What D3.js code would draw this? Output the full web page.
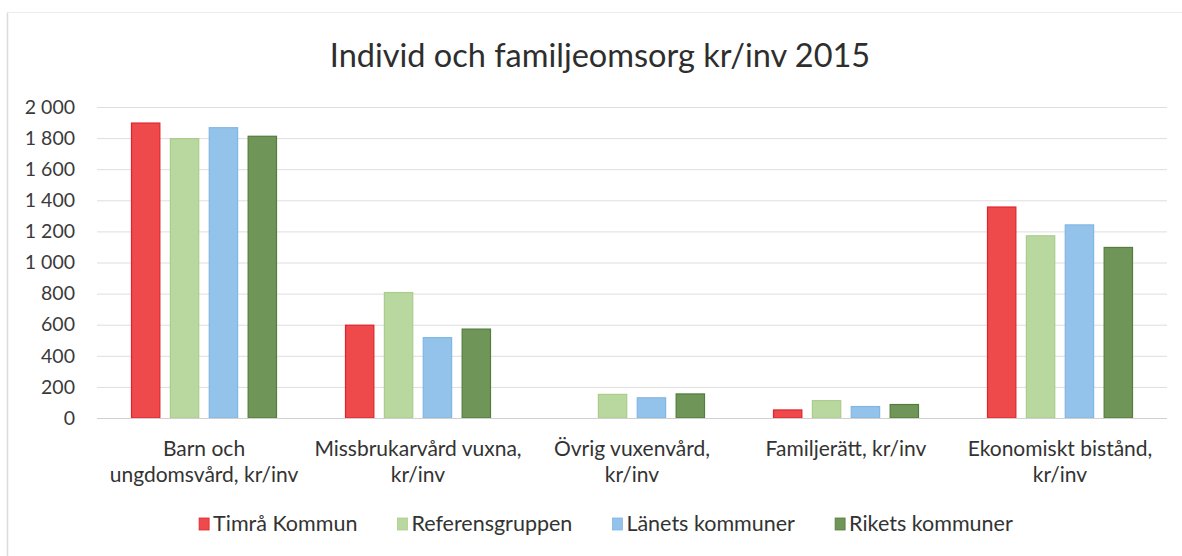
<!DOCTYPE html>
<html>
<head>
<meta charset="utf-8">
<script src="https://cdn.jsdelivr.net/npm/d3@7"></script>
<style>
  html, body { margin: 0; padding: 0; background: #fff; }
  svg { display: block; }
  text { font-family: Lato, "Open Sans", sans-serif; fill: #3a3a3a; }
</style>
</head>
<body>
<svg id="chart" width="1182" height="556"></svg>
<script>
const title = "Individ och familjeomsorg kr/inv 2015";
const categories = [
  "Barn och\nungdomsvård, kr/inv",
  "Missbrukarvård vuxna,\nkr/inv",
  "Övrig vuxenvård,\nkr/inv",
  "Familjerätt, kr/inv",
  "Ekonomiskt bistånd,\nkr/inv"
];
const seriesNames = ["Timrå Kommun", "Referensgruppen", "Länets kommuner", "Rikets kommuner"];
const timra      = [1900, 600, 0, 55, 1360];
const referens   = [1800, 810, 155, 115, 1175];
const lanets     = [1870, 520, 133, 77, 1245];
const rikets     = [1815, 575, 158, 90, 1100];
const yTicks = [0, 200, 400, 600, 800, 1000, 1200, 1400, 1600, 1800, 2000];

const seriesValues = [timra, referens, lanets, rikets];
const fills   = ["#ef4a4b", "#b9d89f", "#93c3ea", "#6f9558"];
const strokes = ["#e0232d", "#aacd8c", "#82b6e2", "#527d3c"];

const svg = d3.select("#chart");
const W = 1182, H = 556;
const plot = { left: 97, right: 1167, top: 107, bottom: 418 };

// faint frame (scanned chart border)
svg.append("line").attr("x1", 7.5).attr("x2", 7.5).attr("y1", 12).attr("y2", H)
  .attr("stroke", "#dcdcdc").attr("stroke-width", 1.5);
svg.append("line").attr("x1", 7).attr("x2", W).attr("y1", 12.5).attr("y2", 12.5)
  .attr("stroke", "#ececec").attr("stroke-width", 1);

// title
svg.append("text").attr("x", 600).attr("y", 67).attr("text-anchor", "middle")
  .style("font-size", "32.5px").style("fill", "#2e2e2e").text(title);

const y = d3.scaleLinear().domain([0, 2000]).range([plot.bottom, plot.top]);
const x0 = d3.scaleBand().domain(categories).range([plot.left, plot.right]).padding(0);
const groupPad = 34;
const x1 = d3.scaleBand().domain(seriesNames)
  .range([groupPad, x0.bandwidth() - groupPad]).paddingInner(0.245).paddingOuter(0);

const sv = d3.formatLocale({ decimal: ",", thousands: " ", grouping: [3], currency: ["", " kr"] });
const fmt = sv.format(",d");

// gridlines
svg.append("g")
  .attr("transform", `translate(${plot.left},0)`)
  .call(d3.axisLeft(y).tickValues(yTicks).tickSize(-(plot.right - plot.left)).tickFormat(""))
  .call(g => g.select(".domain").remove())
  .call(g => g.selectAll(".tick line").attr("stroke", "#dedede").attr("stroke-width", 1));

// y axis labels
svg.append("g")
  .attr("transform", `translate(${plot.left},0)`)
  .call(d3.axisLeft(y).tickValues(yTicks).tickSize(0).tickPadding(22).tickFormat(fmt))
  .call(g => g.select(".domain").remove())
  .call(g => g.selectAll(".tick text").style("font-size", "19.5px").style("fill", "#3a3a3a")
    .style("font-family", "Lato, sans-serif"));

// bars
const groups = svg.append("g").selectAll("g").data(categories).join("g")
  .attr("transform", d => `translate(${x0(d)},0)`);
groups.selectAll("rect")
  .data((c, ci) => seriesNames.map((s, si) => ({ s, si, v: seriesValues[si][ci] })))
  .join("rect")
  .filter(d => d.v > 0)
  .attr("x", d => x1(d.s) + 0.5)
  .attr("width", x1.bandwidth() - 1)
  .attr("y", d => y(d.v) + 0.5)
  .attr("height", d => Math.max(0, y(0) - y(d.v) - 0.5))
  .attr("fill", d => fills[d.si])
  .attr("stroke", d => strokes[d.si])
  .attr("stroke-width", 1.2);

// baseline
svg.append("line").attr("x1", plot.left).attr("x2", plot.right)
  .attr("y1", y(0) + 0.5).attr("y2", y(0) + 0.5).attr("stroke", "#d0d0d0");

// category axis
const xAxis = svg.append("g").attr("transform", `translate(0,${plot.bottom})`)
  .call(d3.axisBottom(x0).tickSize(0).tickFormat(""))
  .call(g => g.select(".domain").remove());
xAxis.selectAll(".tick").each(function(d) {
  const t = d3.select(this).append("text")
    .attr("text-anchor", "middle")
    .style("font-size", "21px").style("fill", "#333");
  d.split("\n").forEach((line, i) => {
    t.append("tspan").attr("x", 0).attr("y", 38 + i * 26).text(line);
  });
});

// legend
const legend = svg.append("g").attr("transform", "translate(0,531)");
const items = legend.selectAll("g").data(seriesNames).join("g");
items.append("rect").attr("y", -13).attr("width", 10).attr("height", 12)
  .attr("fill", (d, i) => fills[i]).attr("stroke", (d, i) => strokes[i]).attr("stroke-width", 0.8);
items.append("text").attr("x", 14).attr("y", 0).style("font-size", "21.5px")
  .style("fill", "#333").text(d => d);
let widths = [];
items.each(function() { widths.push(this.getBBox().width); });
const gap = 40;
const total = d3.sum(widths) + gap * (widths.length - 1);
let cx = 606 - total / 2;
items.attr("transform", (d, i) => {
  const tx = cx; cx += widths[i] + gap; return `translate(${tx},0)`;
});
</script>
</body>
</html>
